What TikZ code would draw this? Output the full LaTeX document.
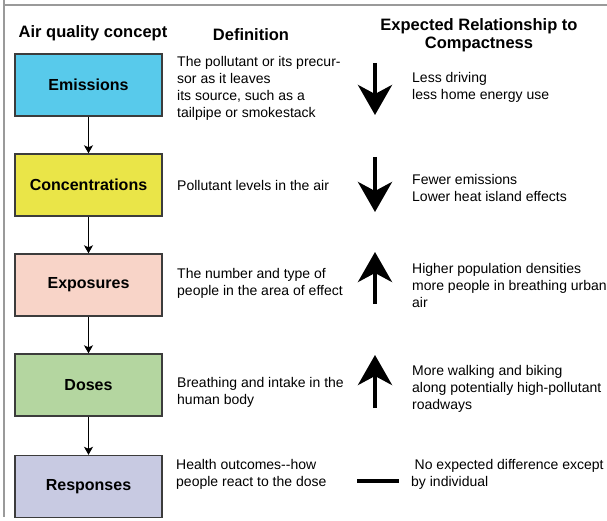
\documentclass[tikz,border=0pt]{standalone}
\usepackage{fontspec}
\setmainfont{Liberation Sans}
\usepackage{xcolor}
\usetikzlibrary{arrows.meta}

\definecolor{emisfill}{HTML}{58CAEB}
\definecolor{concfill}{HTML}{EAE548}
\definecolor{expofill}{HTML}{F8D4C8}
\definecolor{dosefill}{HTML}{B4D6A0}
\definecolor{respfill}{HTML}{C8CAE2}
\definecolor{boxline}{HTML}{3C3C3C}
\definecolor{frameline}{HTML}{9A9A9A}

\begin{document}
\begin{tikzpicture}[x=1pt, y=-1pt,
  concept/.style={draw=boxline, line width=1.4pt, minimum width=147pt, minimum height=62pt, inner sep=0pt, font=\fontsize{16}{19}\selectfont\bfseries},
  head/.style={align=center, inner sep=0pt, font=\fontsize{16.5}{18}\selectfont\bfseries},
  txt/.style={anchor=west, align=left, inner sep=0pt, font=\fontsize{14}{17}\selectfont},
  flow/.style={-{Stealth[length=8pt,width=9pt,inset=2pt]}, line width=1pt},
  trend/.style={line width=4pt, -{Stealth[length=30pt,width=34pt,inset=9pt]}}]
\useasboundingbox (0,0) rectangle (607,521);

% Frame
\draw[frameline, line width=1.2pt] (4,0) -- (4,517);
\draw[frameline, line width=1.2pt] (4,5) -- (607,5);

% Headings
\node[head] (h1) at (93,33) {Air quality concept};
\node[head] (h2) at (251,35) {Definition};
\node[head] (h3) at (479,35) {Expected Relationship to\\Compactness};

% Concepts
\node[concept, fill=emisfill] (emis) at (88.5,85) {Emissions};
\node[concept, fill=concfill] (conc) at (88.5,185) {Concentrations};
\node[concept, fill=expofill] (expo) at (88.5,285) {Exposures};
\node[concept, fill=dosefill] (dose) at (88.5,385) {Doses};
\node[concept, fill=respfill] (resp) at (88.5,486.5) {Responses};

% Definitions
\node[txt] (d1) at (177,88) {The pollutant or its precur-\\sor as it leaves\\its source, such as a\\tailpipe or smokestack};
\node[txt] (d2) at (177,185) {Pollutant levels in the air};
\node[txt] (d3) at (177,283) {The number and type of\\people in the area of effect};
\node[txt] (d4) at (177,392) {Breathing and intake in the\\human body};
\node[txt] (d5) at (176,474) {Health outcomes-{}-how\\people react to the dose};

% Relationship
\node[txt] (r1) at (412,87) {Less driving\\less home energy use};
\node[txt] (r2) at (412,188) {Fewer emissions\\Lower heat island effects};
\node[txt] (r3) at (412,285.5) {Higher population densities\\more people in breathing urban\\air};
\node[txt] (r4) at (412,389) {More walking and biking\\along potentially high-pollutant\\roadways};
\node[txt] (r5) at (411,474) {\hspace*{3.5pt}No expected difference except\\by individual};

%Lines
\draw[flow] (emis) -- (conc);
\draw[flow] (conc) -- (expo);
\draw[flow] (expo) -- (dose);
\draw[flow] (dose) -- (resp);

% Trend arrows
\draw[trend] (375,63) -- (375,115);
\draw[trend] (375,157) -- (375,212);
\draw[trend] (375,304) -- (375,252);
\draw[trend] (375,408) -- (375,355);
\draw[line width=4pt] (357,481) -- (399,481);
\end{tikzpicture}
\end{document}
